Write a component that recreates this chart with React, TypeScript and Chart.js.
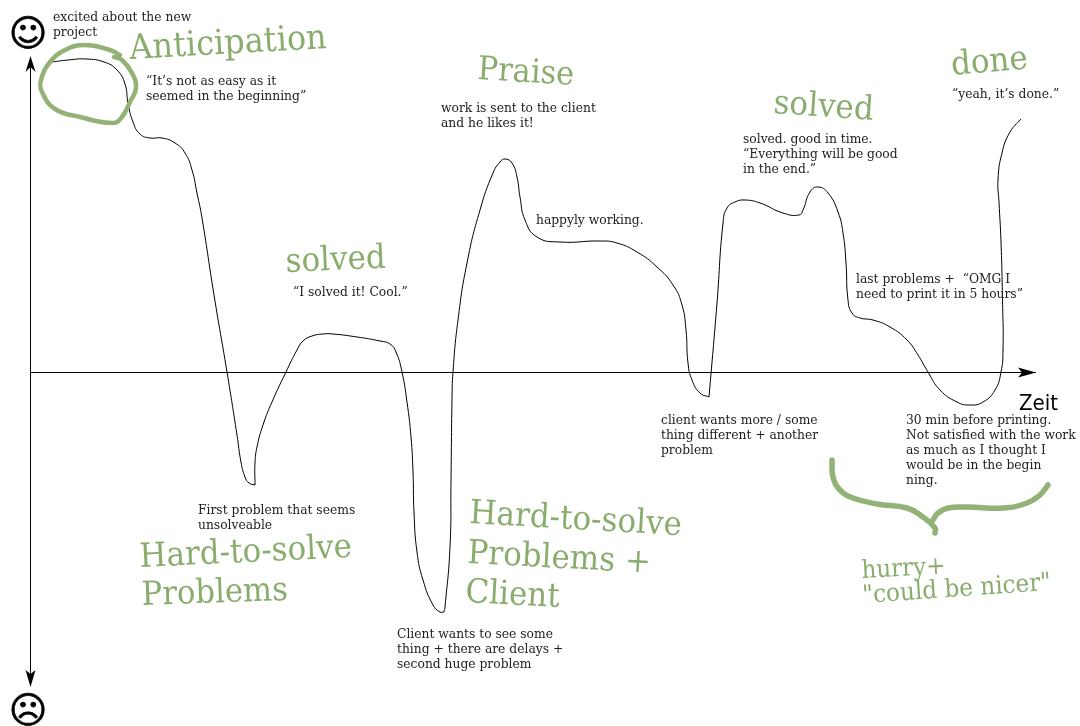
import React, { useEffect, useRef } from "react";
import { Chart, registerables } from "chart.js";

Chart.register(...registerables);

const timeA = [22, 38, 56, 74, 87, 95, 98, 103, 110, 120, 132, 145, 155, 162, 167, 172, 184, 197, 207, 211, 215, 219, 225];
const moodA = [310, 312, 313, 310, 302, 288, 269, 250, 238, 234, 234, 229, 219, 202, 179, 154, 77, 0, -63, -90, -105, -111, -113];
const timeB = [225, 225, 227, 233, 242, 256, 267, 273, 282, 293, 303, 327, 350, 360, 366, 372, 377, 381, 383, 384, 387, 393, 403, 410, 414];
const moodB = [-113, -91, -75, -53, -30, 0, 22, 31, 36, 38, 38, 35, 31, 28, 20, 0, -30, -65, -100, -140, -180, -208, -233, -240, -240];
const timeC = [414, 415, 420, 421, 422, 423, 428, 437, 450, 463, 470, 475, 482, 487, 490, 495, 507, 530, 570, 587, 607, 627, 643, 652, 656, 658, 662, 670, 679];
const moodC = [-240, -235, -175, -108, -28, 0, 52, 109, 162, 199, 210, 213, 209, 195, 175, 152, 135, 130, 131, 129, 120, 105, 87, 67, 42, 9, -8, -21, -25];
const timeD = [679, 687, 693, 697, 705, 715, 730, 753, 769, 773, 780, 788, 798, 808, 813, 816, 818, 822, 830, 843, 860, 877, 888, 898, 910, 927, 940, 953, 965, 971, 973, 972.5, 971, 969, 968, 972, 980, 991];
const moodD = [-25, 69, 149, 164, 170, 172, 169, 159, 157, 162, 180, 185, 179, 160, 139, 109, 72, 59, 54, 52, 45, 32, 17, 0, -18, -30, -33, -30, -18, 0, 22, 72, 130, 170, 192, 219, 240, 253];

const circleTime = [90, 80, 55, 35, 20, 11, 12, 25, 50, 83, 92, 100, 106, 102, 92, 84];
const circleMood = [317, 322, 327, 322, 310, 292, 280, 263, 255, 249, 255, 270, 284, 299, 312, 315];
const braceLeftTime = [802, 803, 810, 823, 847, 877, 893, 905, 905];
const braceLeftMood = [-88, -105, -118, -126, -132, -136, -145, -156, -161];
const braceRightTime = [1018, 1010, 997, 973, 937, 918, 908, 903];
const braceRightMood = [-113, -123, -131, -136, -135, -136, -141, -148];

const noteLines = [
  ["excited about the new", "project"],
  ["“It’s not as easy as it", "seemed in the beginning”"],
  ["“I solved it! Cool.”"],
  ["First problem that seems", "unsolveable"],
  ["Client wants to see some", "thing + there are delays +", "second huge problem"],
  ["work is sent to the client", "and he likes it!"],
  ["happyly working."],
  ["solved. good in time.", "“Everything will be good", "in the end.”"],
  ["last problems +  “OMG I", "need to print it in 5 hours”"],
  ["“yeah, it’s done.”"],
  ["client wants more / some", "thing different + another", "problem"],
  ["30 min before printing.", "Not satisfied with the work", "as much as I thought I", "would be in the begin", "ning."],
];
const noteTime = [23, 116, 263, 168, 367, 411, 506, 713, 826, 922, 631, 876];
const noteMood = [351, 287, 76, -142, -266, 260, 148, 229, 89, 274, -52, -52];

const headings = ["Anticipation", "solved", "Praise", "solved", "done", "Hard-to-solve", "Problems", "Hard-to-solve", "Problems +", "Client", "hurry+", "\"could be nicer\""];
const headingTime = [100, 256, 447, 743, 922, 110, 112, 439, 437, 435, 832, 833];
const headingMood = [313, 100, 293, 259, 297, -195, -233, -151, -191, -230, -206, -231];
const headingTilt = [-3.2, -2.5, 3.5, 4, -5, -2.7, -2, 3.3, 3, 3, -3, -4];
const headingSize = [32, 31, 30.5, 31, 31, 31, 30.7, 31, 31, 31, 23, 23.2];

const zip = (xs: number[], ys: number[]) => xs.map((x, i) => ({ x, y: ys[i] }));

const INK = "#000000";
const GREEN = "#8aad6e";
const STROKE = "#93b277";
const SERIF = "'DejaVu Serif'";

const sketch = {
  id: "sketch",
  afterDatasetsDraw(chart: any) {
    const { ctx, scales } = chart;
    const px = (t: number) => scales.x.getPixelForValue(t);
    const py = (m: number) => scales.y.getPixelForValue(m);
    ctx.save();
    ctx.textBaseline = "alphabetic";
    ctx.textAlign = "left";

    const head = (points: number[][]) => {
      ctx.beginPath();
      points.forEach(([a, b], i) => (i ? ctx.lineTo(a, b) : ctx.moveTo(a, b)));
      ctx.closePath();
      ctx.fillStyle = INK;
      ctx.fill();
    };
    const ox = px(0) + 0.5;
    const oy = py(0) + 0.5;
    const topY = py(scales.y.max);
    const botY = py(scales.y.min);
    const endX = px(scales.x.max);
    head([[ox, topY - 2], [ox - 5, topY + 14], [ox, topY + 9], [ox + 5, topY + 14]]);
    head([[ox, botY + 2], [ox - 5, botY - 15], [ox, botY - 11], [ox + 5, botY - 15]]);
    head([[endX + 1, oy], [endX - 17, oy - 5], [endX - 13, oy], [endX - 17, oy + 5]]);

    ctx.fillStyle = "#222222";
    ctx.font = `12.3px ${SERIF}`;
    noteLines.forEach((lines, i) => {
      lines.forEach((line, j) => ctx.fillText(line, px(noteTime[i]), py(noteMood[i]) + j * 15));
    });

    ctx.fillStyle = GREEN;
    headings.forEach((text, i) => {
      ctx.save();
      ctx.translate(px(headingTime[i]), py(headingMood[i]));
      ctx.rotate((headingTilt[i] * Math.PI) / 180);
      ctx.scale(1, 1.08);
      ctx.font = `${headingSize[i]}px ${SERIF}`;
      ctx.fillText(text, 0, 0);
      ctx.restore();
    });

    ctx.fillStyle = INK;
    ctx.strokeStyle = INK;
    ctx.font = "22px 'DejaVu Sans Condensed', 'DejaVu Sans'";
    ctx.fillText("Zeit", px(989), py(-38));
    ctx.textAlign = "center";
    ctx.font = "37px 'DejaVu Sans'";
    ctx.lineWidth = 0.7;
    [["☺", 326], ["☹", -351]].forEach(([glyph, m]) => {
      ctx.fillText(glyph, px(-2), py(m as number));
      ctx.strokeText(glyph, px(-2), py(m as number));
    });
    ctx.restore();
  },
};

export default function App() {
  const ref = useRef<HTMLCanvasElement>(null);
  useEffect(() => {
    document.body.style.margin = "0";
    const mood = { borderColor: INK, borderWidth: 1, pointRadius: 0, tension: 0.5, fill: false, clip: false as const };
    const mark = { borderColor: STROKE, borderWidth: 4.5, pointRadius: 0, tension: 0.45, fill: false, clip: false as const, borderCapStyle: "round" as const, borderJoinStyle: "round" as const };
    const chart = new Chart(ref.current!, {
      type: "line",
      data: {
        datasets: [
          { ...mark, label: "circle", data: zip(circleTime, circleMood) },
          { ...mark, label: "brace left", borderWidth: 5.5, data: zip(braceLeftTime, braceLeftMood) },
          { ...mark, label: "brace right", borderWidth: 5.5, data: zip(braceRightTime, braceRightMood) },
          { ...mood, label: "mood a", data: zip(timeA, moodA) },
          { ...mood, label: "mood b", data: zip(timeB, moodB) },
          { ...mood, label: "mood c", data: zip(timeC, moodC) },
          { ...mood, label: "mood d", data: zip(timeD, moodD) },
        ],
      },
      options: {
        animation: false,
        responsive: false,
        devicePixelRatio: 1,
        layout: { padding: { left: 30, right: 45, top: 58, bottom: 41 } },
        plugins: { legend: { display: false }, tooltip: { enabled: false } },
        scales: {
          x: {
            type: "linear",
            min: 0,
            max: 1005,
            position: { y: 0 },
            grid: { display: false, drawTicks: false },
            border: { display: true, color: INK, width: 1 },
            ticks: { display: false },
          },
          y: {
            type: "linear",
            min: -313,
            max: 314,
            position: { x: 0 },
            grid: { display: false, drawTicks: false },
            border: { display: true, color: INK, width: 1 },
            ticks: { display: false },
          },
        },
      },
      plugins: [sketch],
    });
    return () => chart.destroy();
  }, []);
  return <canvas ref={ref} width={1080} height={726} style={{ display: "block", position: "absolute", left: 0, top: 0 }} />;
}
